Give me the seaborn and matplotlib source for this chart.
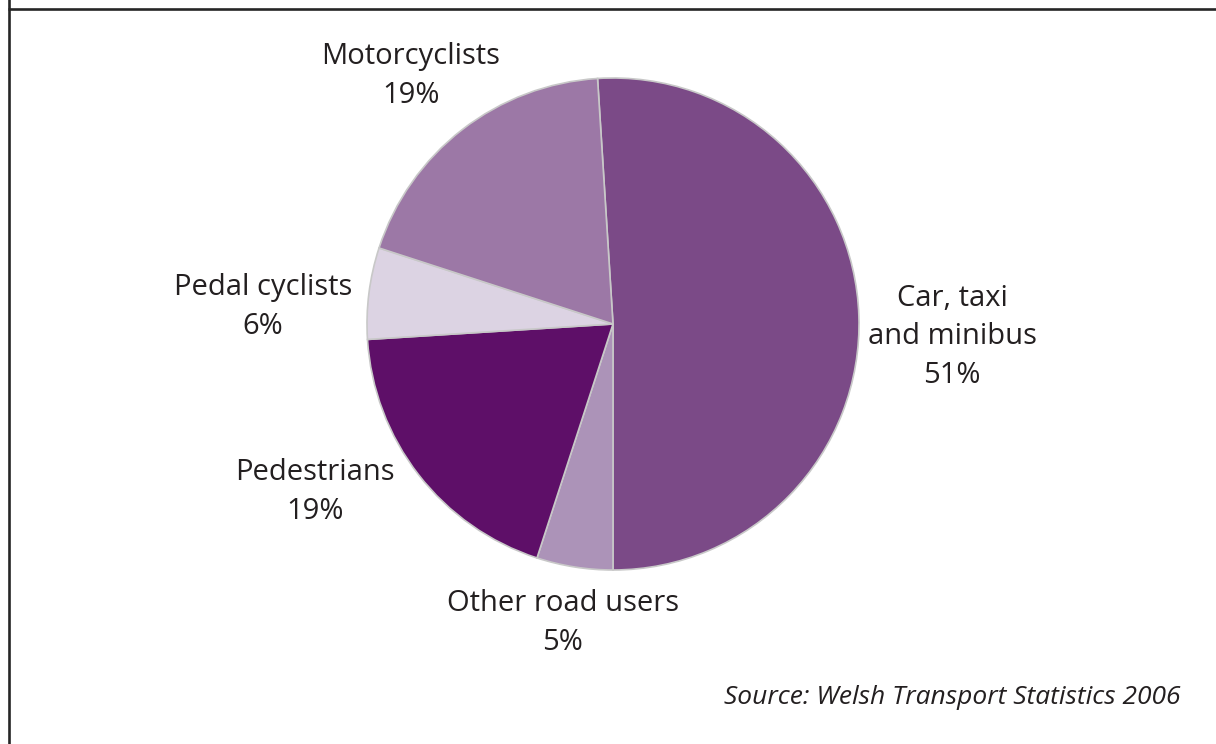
#!/usr/bin/env python3
"""Road casualties by road user type, Wales 2006 (pie chart)."""

import matplotlib
matplotlib.use("Agg")

import matplotlib.pyplot as plt
import seaborn as sns

# ─────────────────────── data ──────────────────────────────────────────
categories = ["Car, taxi\nand minibus", "Other road users", "Pedestrians",
              "Pedal cyclists", "Motorcyclists"]
shares = [51, 5, 19, 6, 19]
colours = ["#7B4A87", "#AC93B8", "#5E0F68", "#DCD3E3", "#9C78A6"]
source_note = "Source: Welsh Transport Statistics 2006"

# label anchor points (pixels from top-left of the 1216x744 canvas)
label_pos = [(952, 337), (563, 623), (315, 492), (263, 307), (411, 76)]

# ─────────────────────── styling ───────────────────────────────────────
sns.set_theme(style="white")
plt.rcParams["font.family"] = ["Open Sans", "DejaVu Sans"]

W, H = 1216, 744
fig = plt.figure(figsize=(W / 100, H / 100), dpi=100)
ax = fig.add_axes([0, 0, 1, 1])
ax.set_xlim(0, W)
ax.set_ylim(0, H)
ax.set_aspect("equal")
ax.axis("off")

# pie centred at (613, 324) px, radius 246 px
ax.pie(shares, colors=colours, startangle=93.6, counterclock=False,
       center=(613, H - 324), radius=246,
       wedgeprops={"edgecolor": "#C8C8C8", "linewidth": 1.2})
ax.set_xlim(0, W)
ax.set_ylim(0, H)

for name, pct, (x, y) in zip(categories, shares, label_pos):
    ax.text(x, H - y, f"{name}\n{pct}%", ha="center", va="center",
            fontsize=21, color="#231F20", linespacing=1.45)

ax.text(1180, H - 697, source_note, ha="right", va="center",
        fontsize=19, style="italic", color="#231F20")

# frame: only the top and left edges are visible in the crop
ax.plot([9, 9], [H + 5, -5], color="#262626", lw=1.9, clip_on=False,
        solid_capstyle="butt")
ax.plot([8, W + 5], [H - 9, H - 9], color="#262626", lw=1.9, clip_on=False,
        solid_capstyle="butt")

fig.savefig("out.png", dpi=100)
